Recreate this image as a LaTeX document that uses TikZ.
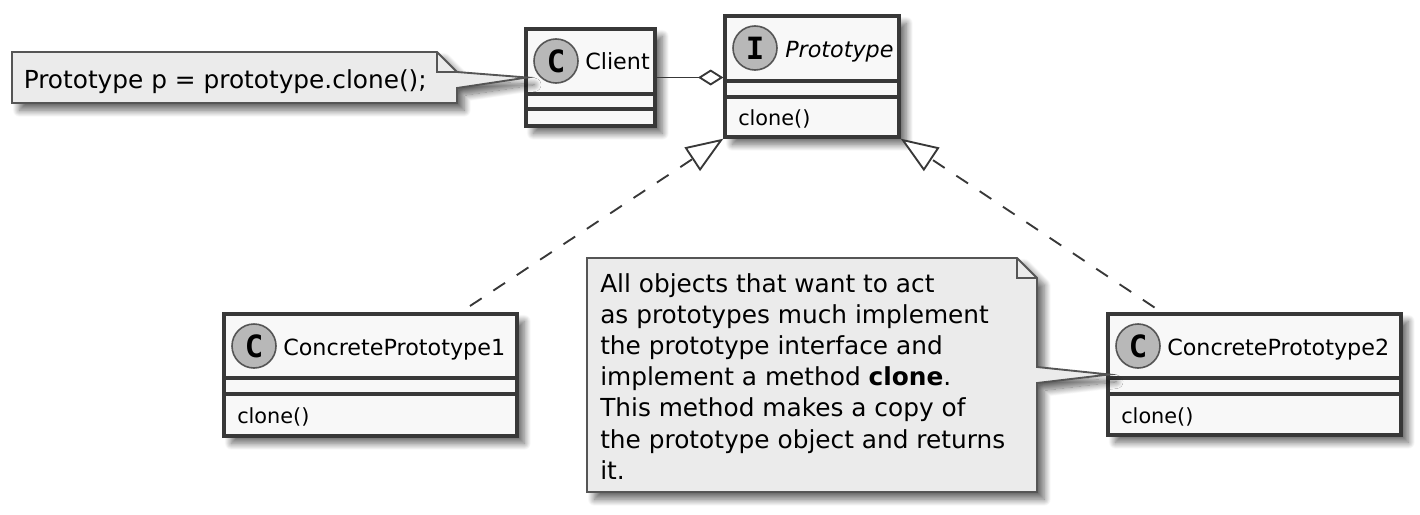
\documentclass[tikz,border=0pt]{standalone}
\usepackage{fontspec}
\setmainfont{DejaVu Sans}
\newfontfamily\spotfont{DejaVu Sans Mono}
\usetikzlibrary{
  arrows.meta,
  shadows.blur
}
\definecolor{umlline}{HTML}{383838}
\definecolor{umlfill}{HTML}{F8F8F8}
\definecolor{notefill}{HTML}{EBEBEB}
\definecolor{noteline}{HTML}{555555}
\definecolor{spotfill}{HTML}{B8B8B8}

\begin{document}
\begin{tikzpicture}[
    x=0.75pt, y=-0.75pt,
    softshadow/.style={
      blur shadow={shadow xshift=5.5pt, shadow yshift=-5.5pt, shadow blur radius=5pt, shadow blur steps=16, shadow opacity=60}
    },
    classbox/.style={
      rectangle,
      draw=umlline,
      fill=umlfill,
      line width=2.5pt,
      inner sep=0pt,
      softshadow
    },
    classrule/.style={
      draw=umlline,
      line width=2.5pt
    },
    spot/.style={
      circle,
      draw=noteline,
      fill=spotfill,
      line width=1.2pt,
      minimum size=33pt,
      inner sep=0pt,
      font={\spotfont\bfseries\fontsize{23}{23}\selectfont}
    },
    classname/.style={
      anchor=base west,
      inner sep=0pt,
      font=\fontsize{16.7}{20}\selectfont
    },
    member/.style={
      anchor=base west,
      inner sep=0pt,
      font=\fontsize{15.6}{20}\selectfont
    },
    notebody/.style={
      draw=noteline,
      fill=notefill,
      line width=1.4pt,
      line join=miter,
      softshadow
    },
    notefold/.style={
      draw=noteline,
      line width=1.4pt
    },
    notetext/.style={
      anchor=north west,
      inner sep=0pt,
      align=left,
      font=\fontsize{18.6}{23.4}\selectfont
    },
    implements/.style={
      draw=umlline,
      line width=1.4pt,
      dash pattern=on 10.5pt off 10.5pt,
      -{Triangle[open, length=28pt, width=21pt, fill=white]}
    },
    aggregates/.style={
      draw=umlline,
      line width=1.4pt,
      -{Diamond[open, length=19pt, width=12pt, fill=white]}
    }
  ]

  \useasboundingbox (0,0) rectangle (1420,514);

  % Classes
  \node[classbox, minimum width=96.75pt, minimum height=72.75pt] (client) at (590.5,77.5) {};
  \node[classbox, minimum width=130.5pt, minimum height=90.75pt] (proto) at (812,76.5) {};
  \node[classbox, minimum width=219.75pt, minimum height=91.5pt] (cpone) at (370.5,375) {};
  \node[classbox, minimum width=219.75pt, minimum height=90.75pt] (cptwo) at (1254.5,374.5) {};

  % Compartments
  \foreach \cls/\ya/\yb in {client/94/109, proto/81/97, cpone/378/394, cptwo/378/394} {
    \draw[classrule] (\cls.west |- 0,\ya) -- (\cls.east |- 0,\ya);
    \draw[classrule] (\cls.west |- 0,\yb) -- (\cls.east |- 0,\yb);
  }

  % Spots
  \node[spot] (clientspot) at (556,61) {C};
  \node[spot] (protospot) at (755,48) {I};
  \node[spot] (cponespot) at (254,346) {C};
  \node[spot] (cptwospot) at (1138,346) {C};

  % Names
  \node[classname] (clientname) at (585,69) {Client};
  \node[classname] (protoname) at (785,57) {\itshape Prototype};
  \node[classname] (cponename) at (283,355) {ConcretePrototype1};
  \node[classname] (cptwoname) at (1167,355) {ConcretePrototype2};

  % Members
  \node[member] (protoclone) at (738,125) {clone()};
  \node[member] (cponeclone) at (237,423) {clone()};
  \node[member] (cptwoclone) at (1121,423) {clone()};

  % Connectors
  \coordinate (cponetop) at (470,306);
  \coordinate (cptwotop) at (1154.5,307.5);
  \draw[aggregates] (client.east) -- (client.east -| proto.west);
  \draw[implements] (cponetop) -- (proto.south west);
  \draw[implements] (cptwotop) -- (proto.south east);

  % Notes
  \draw[notebody] (12,52) -- (437,52) -- (457,72) -- ([xshift=2pt]client.west)
    -- (457,88) -- (457,103) -- (12,103) -- cycle;
  \draw[notefold] (437,52) -- (437,72) -- (457,72);
  \node[notetext] (clientnote) at (23.5,69.5) {Prototype p = prototype.clone();};

  \draw[notebody] (587,258) -- (1017,258) -- (1037,278) -- (1037,367) -- ([xshift=2pt]cptwo.west)
    -- (1037,383) -- (1037,492) -- (587,492) -- cycle;
  \draw[notefold] (1017,258) -- (1017,278) -- (1037,278);
  \node[notetext] (cptwonote) at (600,273) {All objects that want to act\\
    as prototypes much implement\\
    the prototype interface and\\
    implement a method \textbf{clone}.\\
    This method makes a copy of\\
    the prototype object and returns\\
    it.};

\end{tikzpicture}
\end{document}
